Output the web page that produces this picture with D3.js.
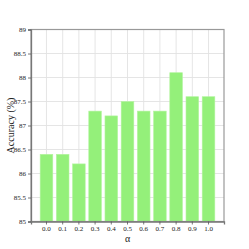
<!DOCTYPE html>
<html>
<head>
<meta charset="utf-8">
<script src="https://cdn.jsdelivr.net/npm/d3@7"></script>
<style>
  body { margin: 0; background: #fff; }
  text { font-family: "Liberation Serif", "DejaVu Serif", serif; fill: #222; }
</style>
</head>
<body>
<div id="chart"></div>
<script>
// chart data
const alphas = ["0.0", "0.1", "0.2", "0.3", "0.4", "0.5", "0.6", "0.7", "0.8", "0.9", "1.0"];
const accuracy = [86.4, 86.4, 86.2, 87.3, 87.2, 87.5, 87.3, 87.3, 88.1, 87.6, 87.6];
const yTicks = [85, 85.5, 86, 86.5, 87, 87.5, 88, 88.5, 89];

const W = 249, H = 249;
const margin = {top: 29.5, right: 25, bottom: 27.5, left: 31};
const width = W - margin.left - margin.right;
const height = H - margin.top - margin.bottom;

var svg = d3.select("#chart")
    .append("svg")
    .attr("width", W)
    .attr("height", H)
    .append("g")
    .attr("transform", "translate(" + margin.left + "," + margin.top + ")");

var x = d3.scaleBand()
    .domain(alphas)
    .range([0, width])
    .paddingInner(0.22)
    .paddingOuter(0.565);

var y = d3.scaleLinear()
    .domain([85, 89])
    .range([height, 0]);

// grid
svg.append("g")
    .selectAll("line.h")
    .data(yTicks)
    .enter().append("line")
    .attr("x1", 0).attr("x2", width)
    .attr("y1", d => y(d)).attr("y2", d => y(d))
    .attr("stroke", "#e2e2e2").attr("stroke-width", 0.9);

svg.append("g")
    .selectAll("line.v")
    .data(alphas)
    .enter().append("line")
    .attr("x1", d => x(d) + x.bandwidth() / 2).attr("x2", d => x(d) + x.bandwidth() / 2)
    .attr("y1", 0).attr("y2", height)
    .attr("stroke", "#e2e2e2").attr("stroke-width", 0.9);

// bars
svg.selectAll("rect.bar")
    .data(alphas)
    .enter()
    .append("rect")
    .attr("x", d => x(d))
    .attr("width", x.bandwidth())
    .attr("y", (d, i) => y(accuracy[i]))
    .attr("height", (d, i) => height - y(accuracy[i]))
    .attr("fill", "#94f07a")
    .attr("stroke", "#b4f4a0")
    .attr("stroke-width", 0.6);

// frame
svg.append("rect")
    .attr("width", width).attr("height", height)
    .attr("fill", "none")
    .attr("stroke", "#999").attr("stroke-width", 1.2);

// axes
var xAx = svg.append("g")
    .attr("transform", "translate(0," + height + ")")
    .call(d3.axisBottom(x).tickSize(3).tickPadding(2));
var yAx = svg.append("g")
    .call(d3.axisLeft(y).tickValues(yTicks).tickSize(3).tickPadding(2).tickFormat(d3.format("")));

[xAx, yAx].forEach(function(g) {
    g.attr("font-family", '"Liberation Serif", serif');
    g.select(".domain").attr("stroke", "#777").attr("stroke-width", 1.3);
    g.selectAll(".tick line").attr("stroke", "#555").attr("stroke-width", 0.8);
    g.selectAll(".tick text").attr("font-size", "7px").attr("fill", "#222");
});

// labels
svg.append("text")
    .attr("text-anchor", "middle")
    .attr("x", width / 2)
    .attr("y", height + 20.5)
    .attr("font-size", "10px")
    .text("α");

svg.append("text")
    .attr("text-anchor", "middle")
    .attr("transform", "rotate(-90)")
    .attr("x", -height / 2)
    .attr("y", -17.5)
    .attr("font-size", "10px")
    .text("Accuracy (%)");
</script>
</body>
</html>
